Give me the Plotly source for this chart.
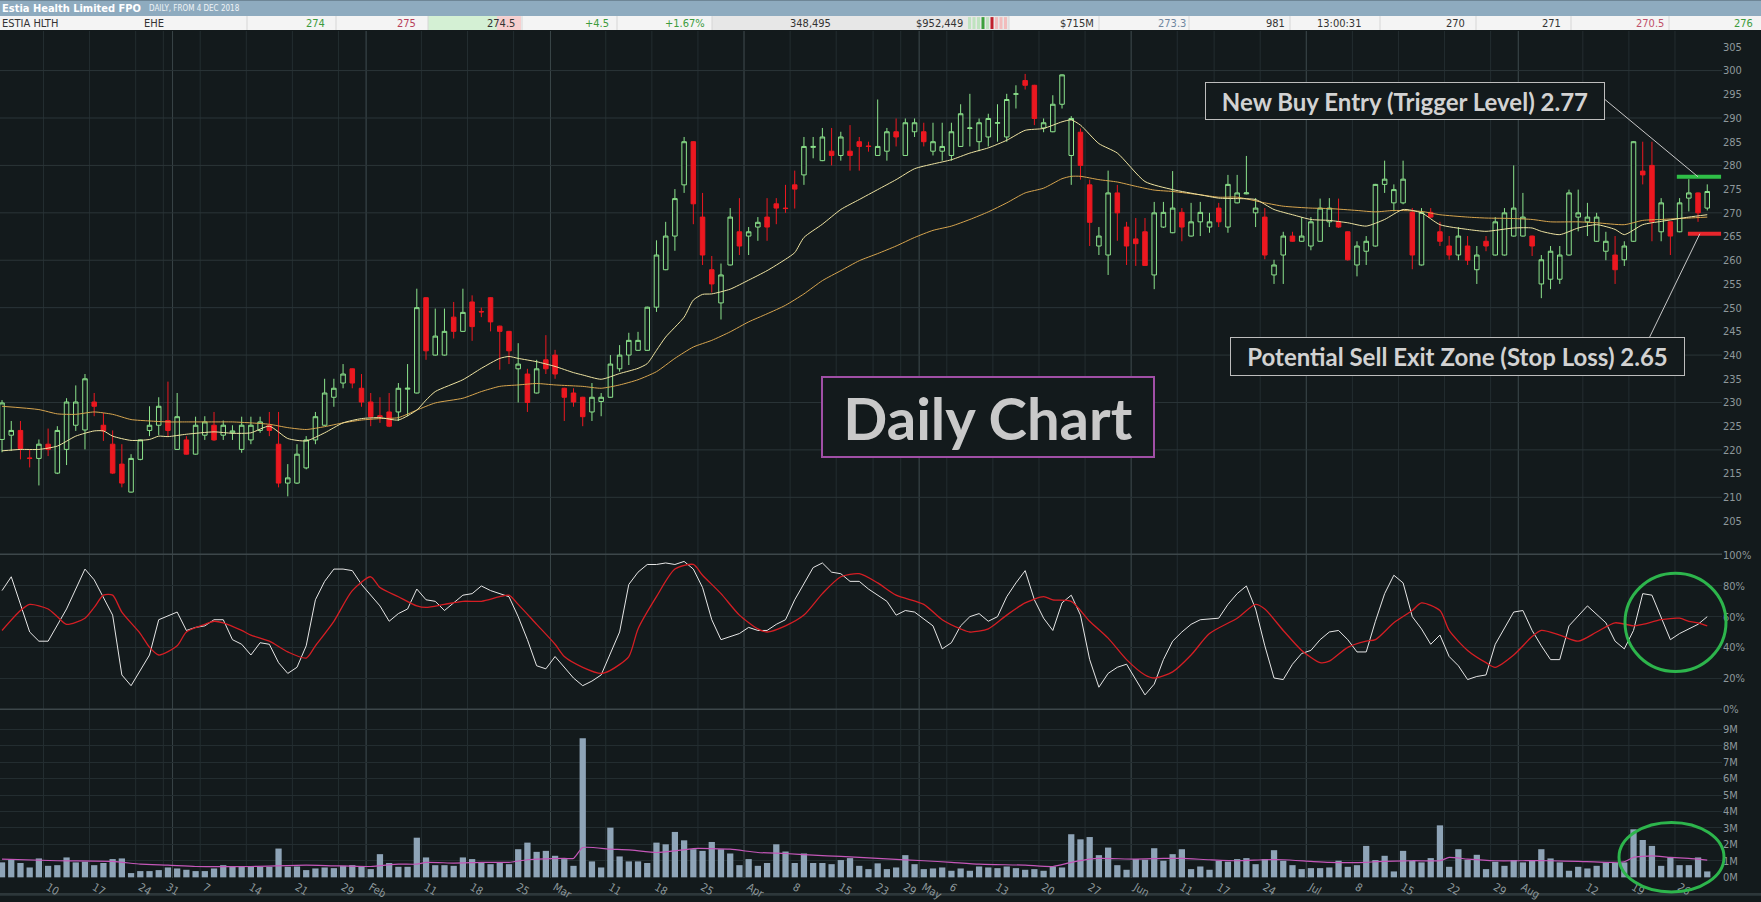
import pandas as pd
import plotly.graph_objects as go

# ---- trading calendar (ASX), 3 Dec 2018 .. 29 Aug 2019 ----
asx_holidays = ["2018-12-25", "2018-12-26", "2019-01-01", "2019-01-28",
                "2019-04-19", "2019-04-22", "2019-04-25", "2019-06-10"]
days = pd.bdate_range("2018-12-03", "2019-08-29")
days = days[~days.isin(pd.to_datetime(asx_holidays))]
dates = [d.strftime("%Y-%m-%d") for d in days]
pos = list(range(len(dates)))

# ---- daily OHLC (cents) ----
open_px = [222.2, 223.1, 224.1, 218.3, 218.2, 221.2, 215.1, 220.1, 225.2, 224.2,
           230.1, 225.2, 221.2, 217.0, 211.1, 218.0, 224.1, 225.2, 226.2, 220.1,
           222.1, 219.1, 223.1, 225.2, 223.1, 223.6, 220.1, 222.1, 224.1, 225.2,
           221.2, 213.0, 213.0, 216.2, 222.1, 225.2, 231.1, 234.1, 237.1, 233.0,
           230.1, 227.2, 228.0, 228.0, 232.8, 232.0, 252.1, 240.0, 240.0, 248.0,
           245.0, 251.2, 249.2, 252.1, 246.1, 245.0, 237.1, 236.0, 232.0, 239.0,
           240.0, 233.0, 232.0, 231.1, 228.0, 230.2, 231.1, 237.1, 240.0, 241.0,
           241.0, 250.1, 258.0, 265.1, 275.9, 285.0, 269.1, 258.0, 251.0, 259.0,
           266.0, 265.1, 267.0, 269.1, 271.9, 271.0, 275.9, 278.0, 283.8, 281.0,
           283.0, 282.1, 283.0, 285.0, 284.1, 282.1, 283.0, 287.1, 282.1, 287.1,
           287.1, 283.0, 283.0, 282.1, 284.0, 287.8, 285.0, 286.0, 288.9, 286.0,
           295.0, 297.9, 296.9, 287.9, 287.1, 292.9, 282.1, 287.0, 275.9, 263.0,
           261.1, 274.2, 267.0, 264.5, 266.0, 256.9, 267.0, 265.8, 270.1, 265.1,
           268.1, 267.0, 271.0, 267.0, 272.1, 274.0, 270.0, 269.1, 256.9, 261.1,
           265.1, 264.0, 263.0, 264.0, 268.1, 268.1, 266.0, 259.0, 261.9, 263.0,
           276.0, 272.1, 272.1, 270.1, 259.0, 270.1, 266.0, 263.0, 261.1, 263.0,
           258.0, 264.0, 261.1, 261.1, 265.1, 265.1, 265.1, 255.0, 256.0, 256.0,
           261.1, 269.1, 268.1, 264.0, 261.9, 261.1, 260.1, 264.0, 278.8, 280.0,
           266.0, 268.1, 266.0, 273.1, 274.2, 271.0]
high_px = [230.5, 226.1, 226.1, 220.1, 222.2, 224.5, 225.0, 230.9, 233.6, 236.0,
           232.0, 227.8, 224.1, 221.2, 219.1, 222.2, 229.2, 231.1, 234.4, 232.0,
           222.9, 227.0, 227.1, 228.0, 226.2, 225.2, 227.0, 227.0, 227.0, 228.0,
           228.0, 217.0, 221.2, 222.9, 228.0, 235.0, 235.0, 238.1, 237.2, 236.0,
           232.0, 231.1, 232.0, 234.1, 238.1, 254.0, 252.2, 249.8, 249.8, 251.2,
           254.0, 252.6, 250.0, 252.2, 246.2, 245.1, 242.5, 237.1, 239.0, 244.2,
           241.1, 233.1, 233.0, 231.2, 234.1, 232.0, 240.0, 242.1, 244.7, 244.9,
           250.2, 264.2, 268.1, 275.0, 286.0, 285.1, 274.2, 260.9, 259.3, 271.0,
           273.1, 267.0, 269.1, 273.1, 273.1, 275.9, 278.9, 286.0, 286.0, 287.9,
           287.9, 287.1, 288.5, 286.0, 285.0, 293.9, 287.9, 289.9, 289.9, 289.9,
           289.0, 289.0, 289.0, 289.0, 292.9, 295.1, 289.9, 290.9, 292.9, 295.1,
           296.9, 299.3, 297.0, 289.9, 294.8, 299.2, 290.4, 287.8, 277.0, 267.0,
           278.9, 275.9, 268.1, 268.9, 268.9, 272.3, 272.3, 278.8, 271.0, 272.1,
           272.3, 270.0, 272.1, 278.0, 278.0, 282.0, 273.1, 271.0, 260.1, 266.0,
           266.0, 269.1, 269.1, 273.0, 273.1, 273.0, 266.1, 264.0, 265.1, 276.1,
           281.0, 276.0, 281.0, 271.0, 271.0, 271.0, 268.1, 265.1, 267.0, 265.1,
           263.0, 265.1, 269.1, 271.0, 280.0, 274.2, 265.2, 261.1, 263.0, 263.0,
           274.9, 274.9, 272.1, 270.0, 266.0, 265.1, 264.0, 285.1, 285.0, 285.0,
           273.1, 268.2, 273.1, 277.1, 274.3, 276.0]
low_px = [219.5, 219.8, 218.0, 216.3, 212.5, 218.7, 214.9, 216.8, 224.0, 220.1,
          227.1, 221.9, 214.9, 212.1, 211.0, 217.8, 222.9, 223.1, 222.9, 220.0,
          219.0, 219.0, 222.1, 221.9, 222.1, 222.1, 219.4, 221.2, 223.6, 222.9,
          212.1, 210.2, 212.8, 215.9, 221.2, 225.1, 229.1, 233.0, 233.0, 229.1,
          225.0, 225.7, 224.8, 226.1, 227.1, 231.9, 239.0, 239.9, 239.9, 243.5,
          244.9, 243.0, 248.0, 245.0, 236.9, 238.1, 230.0, 228.0, 231.9, 236.0,
          235.0, 226.1, 229.1, 225.0, 226.1, 227.1, 231.0, 236.5, 237.9, 240.9,
          240.9, 249.1, 257.9, 262.0, 274.2, 267.6, 259.0, 253.2, 247.5, 258.9,
          261.1, 261.1, 264.1, 264.1, 267.6, 270.0, 270.9, 275.9, 281.5, 280.9,
          280.0, 281.0, 278.9, 278.9, 282.9, 282.0, 281.0, 284.0, 282.0, 286.0,
          284.0, 282.1, 281.0, 281.0, 283.9, 284.0, 283.0, 284.0, 285.0, 285.0,
          292.0, 296.0, 288.5, 287.0, 287.0, 292.0, 275.9, 277.0, 263.0, 261.1,
          256.9, 264.1, 259.0, 258.8, 258.8, 253.9, 266.8, 265.7, 264.0, 265.0,
          265.1, 265.8, 267.0, 265.8, 272.0, 273.9, 267.0, 260.2, 255.0, 255.0,
          263.9, 263.9, 262.1, 263.9, 267.0, 266.8, 259.9, 256.6, 259.0, 262.9,
          274.2, 270.3, 271.8, 258.1, 258.9, 268.9, 263.0, 260.1, 260.0, 259.0,
          255.0, 261.9, 261.0, 261.0, 265.0, 265.0, 260.9, 252.0, 253.9, 255.0,
          261.0, 266.1, 265.1, 263.9, 260.0, 255.0, 258.8, 263.9, 276.0, 264.0,
          264.0, 261.1, 265.9, 270.3, 268.1, 270.5]
close_px = [229.9, 224.1, 220.3, 218.2, 221.2, 220.1, 224.1, 230.1, 230.1, 235.0,
            229.2, 224.0, 215.1, 213.0, 218.2, 222.1, 225.2, 229.2, 224.1, 227.0,
            219.1, 225.2, 225.9, 222.1, 225.2, 224.0, 225.2, 225.2, 225.9, 224.1,
            213.0, 214.1, 219.1, 222.1, 227.0, 232.0, 233.0, 236.0, 234.1, 230.1,
            227.0, 227.0, 225.0, 233.0, 233.0, 250.0, 240.9, 244.0, 245.0, 245.0,
            249.0, 246.0, 249.1, 247.0, 245.0, 240.9, 238.1, 230.0, 237.1, 237.1,
            236.0, 231.1, 230.1, 227.0, 231.1, 231.1, 238.1, 240.0, 243.1, 243.1,
            250.1, 261.1, 265.1, 273.0, 285.0, 271.9, 261.1, 255.0, 256.9, 269.1,
            263.0, 266.0, 268.0, 267.0, 271.0, 270.9, 275.0, 284.0, 284.0, 286.0,
            282.1, 286.0, 282.1, 284.0, 284.0, 284.0, 287.1, 286.0, 289.0, 289.0,
            285.0, 285.0, 284.0, 287.1, 290.9, 287.9, 289.0, 289.9, 289.0, 293.9,
            295.1, 296.9, 289.9, 289.0, 292.9, 299.1, 289.9, 280.0, 268.0, 265.1,
            274.2, 270.0, 263.0, 263.5, 258.9, 270.0, 270.1, 271.0, 267.0, 268.1,
            270.1, 268.1, 268.1, 276.0, 274.2, 274.2, 271.0, 261.1, 259.0, 265.1,
            264.0, 265.1, 268.1, 271.0, 271.0, 267.0, 260.1, 263.0, 264.0, 276.0,
            277.1, 274.9, 277.1, 261.1, 270.1, 269.1, 264.0, 261.1, 265.1, 260.0,
            261.1, 263.0, 268.1, 270.0, 271.0, 269.1, 263.0, 260.1, 261.9, 261.1,
            274.2, 270.0, 269.1, 269.1, 264.0, 258.0, 263.0, 285.0, 278.0, 268.1,
            272.1, 265.1, 272.1, 274.2, 270.0, 274.5]

# ---- moving averages on price (sampled vertices: trading-day index, value) ----
fast_idx = [0, 2, 4, 6, 8, 10, 11, 12, 14, 16, 17, 18, 20, 23, 25, 27, 29, 31, 33, 35,
            37, 39, 41, 43, 45, 46, 47, 50, 52, 54, 55, 56, 58, 60, 62, 63, 65, 67, 69, 70,
            71, 72, 74, 75, 76, 77, 79, 81, 83, 85, 86, 87, 89, 91, 93, 95, 97, 99, 101, 103,
            105, 107, 109, 111, 113, 115, 116, 117, 119, 121, 124, 127, 130, 132, 134, 136,
            138, 140, 142, 144, 146, 148, 150, 152, 154, 156, 159, 161, 164, 166, 167, 169,
            171, 173, 175, 176, 178, 180, 183, 185]
fast_ma = [219.8, 220.1, 220.1, 220.8, 222.9, 224.0, 224.0, 222.9, 222.0, 222.2,
           222.9, 222.8, 223.3, 223.8, 223.5, 223.6, 225.0, 222.4, 221.9, 223.6,
           225.7, 226.6, 226.8, 226.3, 228.4, 230.5, 232.3, 234.8, 237.2, 239.3,
           239.7, 239.3, 238.6, 237.6, 236.3, 235.8, 234.9, 236.1, 237.2, 238.2,
           241.0, 243.8, 248.0, 251.6, 252.8, 252.9, 253.9, 255.8, 257.8, 260.2,
           261.6, 264.8, 267.6, 270.7, 272.8, 274.9, 277.0, 279.3, 280.3, 281.2,
           282.6, 283.7, 285.3, 287.4, 287.8, 289.2, 289.6, 288.5, 284.6, 282.6,
           276.6, 274.9, 273.8, 273.1, 273.0, 272.8, 270.7, 269.6, 268.6, 268.4,
           267.9, 267.2, 268.6, 270.7, 270.0, 267.5, 266.5, 266.1, 266.8, 266.8,
           266.1, 265.4, 266.8, 267.5, 266.5, 265.4, 267.5, 268.2, 269.1, 269.6]
slow_idx = [0, 4, 6, 8, 10, 12, 14, 16, 18, 20, 23, 25, 27, 29, 31, 33, 35, 37, 39, 41,
            43, 45, 47, 50, 52, 54, 56, 58, 60, 62, 63, 65, 67, 69, 71, 73, 75, 77, 79, 81,
            83, 85, 87, 89, 91, 93, 95, 97, 99, 101, 103, 105, 107, 109, 111, 113, 115, 116,
            117, 119, 121, 123, 125, 127, 130, 132, 134, 137, 139, 142, 144, 147, 149, 151,
            154, 156, 159, 161, 164, 166, 168, 171, 173, 176, 178, 180, 183, 185]
slow_ma = [229.2, 228.5, 227.6, 227.5, 228.0, 227.5, 226.4, 226.1, 225.9, 225.9,
           225.9, 225.9, 225.7, 225.4, 224.7, 224.3, 224.9, 225.7, 226.3, 226.6,
           226.8, 228.4, 229.9, 230.9, 232.3, 233.4, 233.7, 234.0, 233.7, 233.5,
           233.4, 233.0, 233.7, 234.8, 236.5, 239.3, 241.7, 243.1, 244.9, 247.0,
           248.7, 250.5, 252.9, 255.7, 257.8, 259.9, 261.4, 263.0, 264.8, 266.3,
           267.2, 268.6, 270.2, 272.1, 274.2, 275.2, 277.2, 277.7, 277.7, 277.0,
           276.5, 275.6, 274.8, 274.5, 273.8, 273.3, 273.3, 272.1, 271.4, 271.0,
           270.9, 270.5, 270.2, 270.5, 270.3, 269.6, 269.1, 268.9, 268.8, 268.6,
           268.1, 268.1, 267.9, 267.5, 268.4, 268.6, 268.9, 269.1]

# ---- stochastic %K (white) and %D (red), vertices ----
k_idx = [0, 1, 3, 4, 5, 7, 9, 10, 12, 13, 14, 16, 17, 19, 20, 21, 22, 23, 24, 25,
         26, 27, 28, 29, 30, 31, 32, 33, 34, 35, 36, 37, 38, 39, 41, 42, 43, 44, 45, 46,
         47, 48, 49, 50, 51, 52, 53, 55, 56, 57, 58, 59, 60, 61, 62, 63, 64, 65, 67, 68,
         69, 70, 71, 72, 73, 74, 75, 76, 77, 78, 80, 81, 82, 83, 84, 85, 86, 88, 89, 90,
         91, 92, 93, 94, 96, 97, 98, 99, 101, 102, 103, 104, 105, 106, 107, 108, 109, 110,
         111, 112, 113, 114, 115, 116, 117, 118, 119, 120, 121, 122, 123, 124, 125, 126,
         127, 128, 129, 130, 132, 133, 134, 135, 136, 137, 138, 139, 140, 141, 142, 143,
         144, 145, 146, 147, 148, 149, 150, 151, 152, 153, 154, 155, 156, 157, 158, 159,
         160, 161, 162, 164, 165, 166, 167, 168, 169, 170, 172, 174, 175, 176, 177, 178,
         179, 180, 181, 182, 183, 184, 185]
k_pct = [77, 86, 50, 44, 44, 65, 91, 84, 61, 22, 15, 35, 58, 63, 51, 53, 54, 58, 58, 45,
         42, 35, 43, 42, 30, 23, 27, 41, 71, 83, 91, 91, 90, 81, 67, 57, 62, 65, 78, 71,
         70, 64, 69, 74, 75, 80, 77, 73, 60, 45, 28, 26, 34, 27, 20, 15, 18, 22, 50, 81,
         89, 94, 94, 95, 94, 96, 91, 79, 58, 45, 49, 53, 51, 51, 55, 58, 71, 92, 95, 89,
         88, 83, 83, 78, 70, 61, 64, 63, 54, 39, 43, 54, 60, 62, 57, 60, 73, 82,
         90, 71, 59, 51, 69, 74, 61, 32, 14, 23, 27, 29, 19, 9, 16, 32,
         44, 50, 55, 58, 59, 68, 75, 80, 65, 41, 20, 19, 29, 36, 38, 45,
         50, 51, 45, 37, 37, 57, 75, 87, 82, 60, 52, 42, 48, 34, 28, 19,
         21, 22, 42, 63, 64, 51, 41, 32, 32, 54, 67, 56, 44, 39, 51, 75,
         74, 60, 45, 49, 52, 55, 60]
d_idx = [0, 2, 3, 5, 6, 7, 9, 10, 11, 12, 13, 15, 16, 17, 19, 20, 22, 23, 24, 26,
         27, 29, 31, 33, 34, 36, 38, 40, 41, 43, 45, 46, 48, 50, 52, 54, 55, 56, 58, 60,
         61, 63, 65, 66, 68, 69, 71, 73, 75, 76, 78, 80, 82, 83, 85, 87, 89, 91, 93, 95,
         97, 100, 102, 104, 105, 107, 109, 111, 113, 114, 116, 118, 120, 122, 124, 125,
         127, 129, 131, 134, 136, 137, 139, 141, 143, 144, 146, 148, 149, 151, 153, 154,
         156, 157, 159, 161, 162, 164, 166, 167, 169, 171, 173, 175, 177, 178, 180, 182,
         183, 184, 185]
d_pct = [51, 64, 68, 65, 60, 55, 59, 66, 74, 74, 63, 49, 40, 35, 41, 50, 55, 57, 56, 51,
         48, 44, 37, 33, 41, 57, 77, 86, 79, 73, 67, 66, 68, 70, 70, 73, 74, 68, 55, 42,
         34, 27, 23, 25, 34, 52, 73, 91, 94, 87, 75, 61, 52, 50, 54, 61, 75, 86, 88, 82,
         74, 68, 58, 52, 50, 52, 61, 69, 73, 71, 70, 57, 46, 32, 22, 20,
         24, 35, 49, 59, 68, 65, 51, 38, 30, 31, 40, 44, 45, 56, 64, 69,
         64, 51, 38, 30, 27, 35, 47, 51, 48, 44, 50, 56, 54, 55, 58, 59,
         57, 56, 54]

# ---- volume (millions of shares) and its moving average ----
volume_m = [0.91, 1.07, 0.87, 0.60, 1.15, 0.70, 0.74, 1.21, 0.91, 0.95,
            0.74, 0.87, 1.11, 1.15, 0.26, 0.38, 0.38, 0.44, 0.60, 0.54,
            0.46, 0.38, 0.38, 0.54, 0.74, 0.64, 0.64, 0.64, 0.64, 0.64,
            1.75, 0.64, 0.66, 0.44, 0.54, 0.60, 0.56, 0.70, 0.74, 0.64,
            0.50, 1.41, 0.87, 0.64, 0.64, 2.41, 1.21, 0.74, 0.74, 0.70,
            1.21, 1.11, 0.87, 0.80, 0.87, 0.80, 1.71, 2.11, 1.55, 1.61,
            1.31, 1.11, 0.70, 8.45, 0.97, 0.60, 3.02, 1.27, 0.97, 0.97,
            0.87, 2.11, 2.01, 2.76, 2.25, 1.71, 1.61, 2.15, 1.71, 1.45,
            0.74, 1.11, 0.70, 0.87, 2.01, 1.57, 0.87, 1.45, 0.87, 0.87,
            0.80, 1.05, 1.17, 0.70, 0.50, 0.85, 0.50, 0.60, 1.35, 0.80,
            0.50, 0.54, 0.60, 0.40, 0.54, 0.40, 0.66, 0.60, 0.56, 0.66,
            0.56, 0.46, 0.50, 0.40, 0.66, 0.60, 2.62, 2.31, 2.45, 1.35,
            1.81, 0.74, 0.46, 1.11, 1.07, 1.77, 1.01, 1.41, 1.71, 0.50,
            0.66, 0.46, 1.01, 0.95, 1.11, 1.17, 0.80, 1.11, 1.65, 1.01,
            0.74, 0.50, 0.56, 0.56, 0.60, 1.01, 0.64, 0.74, 1.91, 1.05,
            1.31, 0.36, 1.61, 1.01, 0.91, 1.17, 3.16, 0.64, 1.71, 1.07,
            1.37, 0.50, 0.95, 0.70, 1.05, 0.91, 1.05, 1.71, 1.15, 0.91,
            0.40, 0.64, 0.54, 0.70, 0.91, 0.87, 0.91, 2.92, 2.27, 1.91,
            0.70, 1.21, 0.74, 0.74, 1.21, 0.36]
vma_idx = [0, 6, 12, 15, 18, 21, 27, 33, 36, 40, 43, 45, 46, 49, 52, 55, 57, 61, 62, 63,
           66, 68, 71, 73, 75, 79, 82, 85, 88, 91, 95, 100, 103, 106, 111, 114, 116, 118,
           119, 123, 126, 128, 131, 134, 137, 139, 142, 144, 148, 149, 153, 156, 157, 159,
           162, 165, 168, 171, 174, 176, 177, 179, 181, 183, 185]
vma_m = [1.11, 1.01, 0.97, 0.80, 0.74, 0.66, 0.66, 0.74, 0.70, 0.66,
         0.80, 0.80, 0.91, 0.87, 0.91, 0.91, 1.07, 1.15, 1.15, 1.81,
         1.71, 1.67, 1.51, 1.61, 1.75, 1.71, 1.51, 1.45, 1.35, 1.27,
         1.15, 1.01, 0.91, 0.80, 0.74, 0.66, 0.91, 1.11, 1.15, 1.11,
         1.15, 1.15, 1.07, 1.01, 1.07, 1.07, 0.97, 0.91, 0.91, 0.95,
         1.01, 1.01, 1.21, 1.11, 1.01, 1.01, 1.01, 0.97, 0.91, 0.95,
         1.21, 1.31, 1.21, 1.15, 1.05]

# ---- x tick labels ----
tick_dates = ["2018-12-10", "2018-12-17", "2018-12-24", "2018-12-31", "2019-01-07",
              "2019-01-14", "2019-01-21", "2019-01-29", "2019-02-01", "2019-02-11",
              "2019-02-18", "2019-02-25", "2019-03-01", "2019-03-11", "2019-03-18",
              "2019-03-25", "2019-04-01", "2019-04-08", "2019-04-15", "2019-04-23",
              "2019-04-29", "2019-05-01", "2019-05-06", "2019-05-13", "2019-05-20",
              "2019-05-27", "2019-06-03", "2019-06-11", "2019-06-17", "2019-06-24",
              "2019-07-01", "2019-07-08", "2019-07-15", "2019-07-22", "2019-07-29",
              "2019-08-01", "2019-08-12", "2019-08-19", "2019-08-26"]
tick_text = ["10", "17", "24", "31", "7", "14", "21", "29", "Feb", "11", "18", "25",
             "Mar", "11", "18", "25", "Apr", "8", "15", "23", "29", "May", "6", "13",
             "20", "27", "Jun", "11", "17", "24", "Jul", "8", "15", "22", "29", "Aug",
             "12", "19", "26"]

buy_level = 277.6
stop_level = 265.6

# header quote line
quote_text = ["274", "275", "274.5", "+4.5", "+1.67%", "348,495", "$952,449", "$715M",
              "273.3", "981", "270", "271", "270.5", "276"]

assert len(open_px) == len(high_px) == len(low_px) == len(close_px) == len(dates) == len(volume_m)
assert len(k_idx) == len(k_pct) and len(d_idx) == len(d_pct)
assert len(fast_idx) == len(fast_ma) and len(slow_idx) == len(slow_ma) and len(vma_idx) == len(vma_m)

tick_pos = [dates.index(d) for d in tick_dates]
month_pos = [i for i in range(1, len(dates)) if dates[i][5:7] != dates[i - 1][5:7]]
last = pos[-1]

BG = "#131a1c"
GREEN = "#8ce38c"
RED = "#ec1820"
GRID = "#232d30"
NARROW = "Liberation Sans Narrow, DejaVu Sans Condensed, sans-serif"
AXIS_FONT = dict(family=NARROW, size=11, color="#8d989b")

# plot area in pixels: x 0..1722, y 31..884
PW, PT, PB = 1722.0, 31.0, 884.0


def px(X):
    return X / PW


def py(Y):
    return (PB - Y) / (PB - PT)


fig = go.Figure()

fig.add_trace(go.Candlestick(
    x=pos, open=open_px, high=high_px, low=low_px, close=close_px,
    increasing=dict(line=dict(color=GREEN, width=1), fillcolor=BG),
    decreasing=dict(line=dict(color=RED, width=1), fillcolor=RED),
    whiskerwidth=0, hoverinfo="skip", name="EHE"))
fig.add_trace(go.Scatter(x=slow_idx, y=slow_ma, mode="lines", hoverinfo="skip",
                         line=dict(color="#d7a54f", width=1, shape="spline", smoothing=0.6)))
fig.add_trace(go.Scatter(x=fast_idx, y=fast_ma, mode="lines", hoverinfo="skip",
                         line=dict(color="#efe4a2", width=1, shape="spline", smoothing=0.6)))

fig.add_trace(go.Scatter(x=k_idx, y=k_pct, mode="lines", yaxis="y2", hoverinfo="skip",
                         line=dict(color="#e6e6e6", width=1)))
fig.add_trace(go.Scatter(x=d_idx, y=d_pct, mode="lines", yaxis="y2", hoverinfo="skip",
                         line=dict(color="#d51e24", width=1.3, shape="spline", smoothing=0.7)))

fig.add_trace(go.Bar(x=pos, y=volume_m, yaxis="y3", hoverinfo="skip",
                     marker=dict(color="#8ea4b7", line=dict(width=0))))
fig.add_trace(go.Scatter(x=vma_idx, y=vma_m, mode="lines", yaxis="y3", hoverinfo="skip",
                         line=dict(color="#c457b8", width=1.2, shape="spline", smoothing=0.5)))

shapes = []
# vertical grid: weekly boundaries, brighter month boundaries
for p in tick_pos:
    shapes.append(dict(type="line", xref="x", yref="paper", x0=p - 0.5, x1=p - 0.5,
                       y0=0, y1=1, layer="below", line=dict(color=GRID, width=1)))
for p in month_pos:
    shapes.append(dict(type="line", xref="x", yref="paper", x0=p - 0.5, x1=p - 0.5,
                       y0=0, y1=1, layer="below", line=dict(color="#3a4548", width=1)))
# price grid every 10
for v in range(210, 301, 10):
    shapes.append(dict(type="line", xref="paper", yref="y", x0=0, x1=1, y0=v, y1=v,
                       layer="below", line=dict(color="#2b3538", width=1)))
# panel separators
for Y in (558, 714):
    shapes.append(dict(type="line", xref="paper", yref="paper", x0=0, x1=1,
                       y0=py(Y), y1=py(Y), line=dict(color="#3d474a", width=1.5)))

# trigger / stop levels and leader lines
shapes.append(dict(type="line", xref="x", yref="y", x0=last - 3.3, x1=last + 1.5,
                   y0=buy_level, y1=buy_level, line=dict(color="#2fbf47", width=4)))
shapes.append(dict(type="line", xref="x", yref="y", x0=last - 2.1, x1=last + 1.5,
                   y0=stop_level, y1=stop_level, line=dict(color="#e8262c", width=4)))
shapes.append(dict(type="line", xref="x", yref="y", x0=last - 11.1, y0=293.9,
                   x1=last - 1.0, y1=buy_level, line=dict(color="#c8c8c8", width=1)))
shapes.append(dict(type="line", xref="x", yref="y", x0=last - 6.3, y0=243.6,
                   x1=last - 0.8, y1=stop_level, line=dict(color="#c8c8c8", width=1)))

# green circles
shapes.append(dict(type="circle", xref="paper", yref="paper",
                   x0=px(1625), x1=px(1726), y0=py(676), y1=py(577),
                   line=dict(color="#2db54c", width=3)))
shapes.append(dict(type="circle", xref="paper", yref="paper",
                   x0=px(1619), x1=px(1724), y0=py(898), y1=py(828),
                   line=dict(color="#2db54c", width=3)))

# header bars
shapes.append(dict(type="rect", xref="paper", yref="paper", x0=0, x1=px(1761),
                   y0=py(16), y1=py(0), line=dict(width=0), fillcolor="#8eabbf"))
shapes.append(dict(type="rect", xref="paper", yref="paper", x0=0, x1=px(1761),
                   y0=py(30), y1=py(16), line=dict(width=0), fillcolor="#f4f4f4"))
shapes.append(dict(type="rect", xref="paper", yref="paper", x0=px(428), x1=px(497),
                   y0=py(30), y1=py(16), line=dict(width=0), fillcolor="#d4f0d4"))
shapes.append(dict(type="rect", xref="paper", yref="paper", x0=px(497), x1=px(521),
                   y0=py(30), y1=py(16), line=dict(width=0), fillcolor="#f6cfcf"))
shapes.append(dict(type="rect", xref="paper", yref="paper", x0=px(712), x1=px(1009),
                   y0=py(30), y1=py(16), line=dict(width=0), fillcolor="#e7e7e7"))
for X in (247, 336, 428, 522, 617, 712, 1009, 1099, 1189, 1290, 1380, 1476, 1571, 1669):
    shapes.append(dict(type="line", xref="paper", yref="paper", x0=px(X), x1=px(X),
                       y0=py(30), y1=py(16), line=dict(color="#d6d6d6", width=1)))
spark = ["#bfe3bf", "#bfe3bf", "#bfe3bf", "#3d9f3d", "#bfe3bf", "#c0202c",
         "#f2bcbc", "#f2bcbc", "#f2bcbc"]
for i, c in enumerate(spark):
    X = 968 + i * 4.5
    shapes.append(dict(type="rect", xref="paper", yref="paper", x0=px(X), x1=px(X + 3),
                       y0=py(29), y1=py(17), line=dict(width=0), fillcolor=c))
# bottom strip
shapes.append(dict(type="rect", xref="paper", yref="paper", x0=0, x1=px(1761),
                   y0=py(902), y1=py(899), layer="below", line=dict(width=0),
                   fillcolor="#2d373a"))

annotations = [
    dict(text="<b>Estia Health Limited FPO</b>", x=0, y=py(8), xref="paper", yref="paper",
         xanchor="left", yanchor="middle", showarrow=False,
         font=dict(family=NARROW, size=11, color="#ffffff")),
    dict(text="DAILY, FROM 4 DEC 2018", x=px(147), y=py(8.5), xref="paper", yref="paper",
         xanchor="left", yanchor="middle", showarrow=False,
         font=dict(family=NARROW, size=8, color="#eef3f6")),
    dict(text="ESTIA HLTH", x=0, y=py(23), xref="paper", yref="paper", xanchor="left",
         yanchor="middle", showarrow=False, font=dict(family=NARROW, size=11, color="#333333")),
    dict(text="EHE", x=px(142), y=py(23), xref="paper", yref="paper", xanchor="left",
         yanchor="middle", showarrow=False, font=dict(family=NARROW, size=11, color="#333333")),
    dict(text="13:00:31", x=px(1315), y=py(23), xref="paper", yref="paper", xanchor="left",
         yanchor="middle", showarrow=False, font=dict(family=NARROW, size=11, color="#333333")),
]
quote_right = [327, 418, 517, 611, 707, 833, 965, 1096, 1188, 1287, 1467, 1563, 1666, 1755]
quote_color = ["#3d9b3d", "#b8405a", "#333333", "#3d9b3d", "#3d9b3d", "#333333", "#333333",
               "#333333", "#6f86a0", "#333333", "#333333", "#333333", "#c0506a", "#3d9b3d"]
for t, X, c in zip(quote_text, quote_right, quote_color):
    annotations.append(dict(text=t, x=px(X), y=py(23), xref="paper", yref="paper",
                            xanchor="right", yanchor="middle", showarrow=False,
                            font=dict(family=NARROW, size=11, color=c)))

BOX_FONT = "Lato, Open Sans, sans-serif"
annotations += [
    dict(text="<b>New Buy Entry (Trigger Level) 2.77</b>", x=px(1405), y=py(101),
         xref="paper", yref="paper", xanchor="center", yanchor="middle", showarrow=False,
         font=dict(family=BOX_FONT, size=24, color="#d2d2d2"), bgcolor=BG,
         bordercolor="#bdbdbd", borderwidth=1, borderpad=4, width=390, height=28),
    dict(text="<b>Potential Sell Exit Zone (Stop Loss) 2.65</b>", x=px(1457), y=py(358.5),
         xref="paper", yref="paper", xanchor="center", yanchor="middle", showarrow=False,
         font=dict(family=BOX_FONT, size=24, color="#d2d2d2"), bgcolor=BG,
         bordercolor="#bdbdbd", borderwidth=1, borderpad=4, width=445, height=29),
    dict(text="<b>Daily Chart</b>", x=px(988), y=py(420), xref="paper", yref="paper",
         xanchor="center", yanchor="middle", showarrow=False,
         font=dict(family=BOX_FONT, size=58, color="#c9c9c9"), bgcolor=BG,
         bordercolor="#a04fa6", borderwidth=2, borderpad=4, width=322, height=70),
]

fig.update_layout(
    width=1761, height=902,
    margin=dict(l=0, r=39, t=31, b=18),
    paper_bgcolor=BG, plot_bgcolor=BG,
    showlegend=False, bargap=0.32, hovermode=False,
    shapes=shapes, annotations=annotations,
    xaxis=dict(range=[-0.22, 186.6], tickmode="array", tickvals=tick_pos, ticktext=tick_text,
               showgrid=False, zeroline=False, showline=False, ticks="", tickfont=AXIS_FONT,
               rangeslider=dict(visible=False), anchor="y3"),
    yaxis=dict(domain=[py(558), 1], range=[197.98, 308.35], side="right",
               tickmode="array", tickvals=list(range(205, 306, 5)), showgrid=False,
               zeroline=False, ticks="", tickfont=AXIS_FONT, anchor="x"),
    yaxis2=dict(domain=[py(714), py(558)], range=[-0.32, 100.65], side="right",
                tickmode="array", tickvals=[0, 20, 40, 60, 80, 100],
                ticktext=["0%", "20%", "40%", "60%", "80%", "100%"],
                showgrid=True, gridcolor=GRID, zeroline=False, ticks="",
                tickfont=AXIS_FONT, anchor="x"),
    yaxis3=dict(domain=[0, py(714)], range=[-0.04, 10.22], side="right",
                tickmode="array", tickvals=list(range(10)),
                ticktext=[f"{v}M" for v in range(10)],
                showgrid=True, gridcolor=GRID, zeroline=False, ticks="",
                tickfont=AXIS_FONT, anchor="x"),
)

# page body has a default margin; drop it so the figure fills the window exactly
fig.write_html("out.html", config={"displayModeBar": False},
               post_script="document.body.style.margin='0';"
                           "document.body.style.background='" + BG + "';")
